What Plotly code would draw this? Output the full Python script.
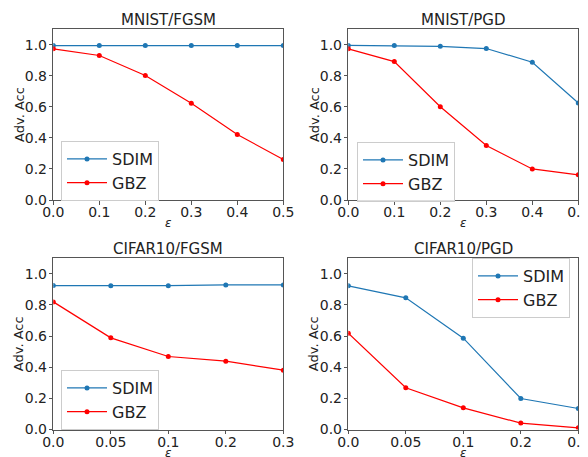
import plotly.graph_objects as go

# ---- data ----
mnist_eps = [0.0, 0.1, 0.2, 0.3, 0.4, 0.5]
cifar_eps = ["0.0", "0.05", "0.1", "0.2", "0.3"]

mnist_fgsm_sdim = [0.995, 0.995, 0.995, 0.995, 0.995, 0.995]
mnist_fgsm_gbz = [0.974, 0.931, 0.802, 0.623, 0.422, 0.261]

mnist_pgd_sdim = [0.996, 0.995, 0.990, 0.976, 0.888, 0.625]
mnist_pgd_gbz = [0.974, 0.892, 0.601, 0.351, 0.200, 0.162]

cifar_fgsm_sdim = [0.925, 0.924, 0.924, 0.929, 0.929]
cifar_fgsm_gbz = [0.820, 0.589, 0.469, 0.439, 0.381]

cifar_pgd_sdim = [0.923, 0.846, 0.587, 0.199, 0.135]
cifar_pgd_gbz = [0.619, 0.268, 0.139, 0.041, 0.011]

titles = ["MNIST/FGSM", "MNIST/PGD", "CIFAR10/FGSM", "CIFAR10/PGD"]
y_ticks = [0.0, 0.2, 0.4, 0.6, 0.8, 1.0]

# page has an 8px body margin: figure sits at (8, 8) in the window
OX, OY = 8, 8
W, H = 588 - OX, 457 - OY
BLUE = "#1f77b4"
RED = "#ff0000"
FONT = "DejaVu Sans"


def px(x):
    return (x - OX) / W


def py(y):
    return 1 - (y - OY) / H


fig = go.Figure()

panels = [
    (mnist_eps, mnist_fgsm_sdim, mnist_fgsm_gbz),
    (mnist_eps, mnist_pgd_sdim, mnist_pgd_gbz),
    (cifar_eps, cifar_fgsm_sdim, cifar_fgsm_gbz),
    (cifar_eps, cifar_pgd_sdim, cifar_pgd_gbz),
]

# window-pixel boxes of the plot areas (left, right, top, bottom)
boxes = [
    (53.3, 283.3, 29.3, 200.0),
    (348.3, 578.3, 29.3, 200.0),
    (53.3, 283.3, 258.3, 429.5),
    (348.3, 578.3, 258.3, 429.5),
]

legend_pos = [
    dict(x=px(61), y=py(141), xanchor="left", yanchor="top"),
    dict(x=px(357), y=py(142), xanchor="left", yanchor="top"),
    dict(x=px(61), y=py(370), xanchor="left", yanchor="top"),
    dict(x=px(570), y=py(258), xanchor="right", yanchor="top"),
]

layout = dict(
    template="none",
    width=W, height=H,
    margin=dict(l=0, r=0, t=0, b=0, autoexpand=False),
    paper_bgcolor="white", plot_bgcolor="white",
    font=dict(family=FONT, color="#222222"),
    showlegend=True,
)

annotations = []
for i, ((xs, sdim, gbz), (l, r, t, b)) in enumerate(zip(panels, boxes)):
    n = i + 1
    xa = "x" if n == 1 else f"x{n}"
    ya = "y" if n == 1 else f"y{n}"
    lg = "legend" if n == 1 else f"legend{n}"
    fig.add_trace(go.Scatter(
        x=xs, y=sdim, name="SDIM", mode="lines+markers",
        line=dict(color=BLUE, width=1.2), marker=dict(color=BLUE, size=5),
        xaxis=xa, yaxis=ya, legend=lg))
    fig.add_trace(go.Scatter(
        x=xs, y=gbz, name="GBZ", mode="lines+markers",
        line=dict(color=RED, width=1.2), marker=dict(color=RED, size=5),
        xaxis=xa, yaxis=ya, legend=lg))

    axis_common = dict(
        automargin=False,
        showline=True, linecolor="#555555", linewidth=1, mirror=True,
        showgrid=False, zeroline=False,
        ticks="outside", ticklen=3.5, tickwidth=1, tickcolor="#555555",
        ticklabeloverflow="allow",
        tickfont=dict(family=FONT, size=14, color="#222222"),
    )
    xkey = "xaxis" if n == 1 else f"xaxis{n}"
    ykey = "yaxis" if n == 1 else f"yaxis{n}"
    xdict = dict(axis_common, domain=[px(l), px(r)], anchor=ya, ticklabelstandoff=-4)
    if isinstance(xs[0], str):
        xdict.update(type="category", range=[0, len(xs) - 1])
    else:
        xdict.update(range=[0, 0.5], tickvals=xs, ticktext=[f"{v:.1f}" for v in xs])
    ydict = dict(axis_common, domain=[py(b), py(t)], anchor=xa,
                 range=[0, 1.1], tickvals=y_ticks, ticklabelstandoff=-1,
                 ticktext=[f"{v:.1f}" for v in y_ticks])
    layout[xkey] = xdict
    layout[ykey] = ydict
    layout[lg] = dict(
        legend_pos[i],
        bgcolor="rgba(255,255,255,0.8)", bordercolor="#cccccc", borderwidth=1,
        font=dict(family=FONT, size=16, color="#222222"),
        itemwidth=40, tracegroupgap=0,
    )

    cx = px((l + r) / 2)
    annotations.append(dict(
        text=titles[i], x=cx, y=py(t - 9.5), xref="paper", yref="paper",
        xanchor="center", yanchor="middle", showarrow=False,
        font=dict(family=FONT, size=15, color="#222222")))
    annotations.append(dict(
        text="Adv. Acc", x=px(l - 34), y=py((t + b) / 2),
        xref="paper", yref="paper", xanchor="center", yanchor="middle",
        textangle=-90, showarrow=False,
        font=dict(family=FONT, size=13, color="#222222")))
    annotations.append(dict(
        text="<i>ε</i>", x=cx, y=py(b + 23), xref="paper", yref="paper",
        xanchor="center", yanchor="middle", showarrow=False,
        font=dict(family=FONT, size=12, color="#222222")))

layout["annotations"] = annotations
fig.update_layout(**layout)
fig.write_html("out.html")
